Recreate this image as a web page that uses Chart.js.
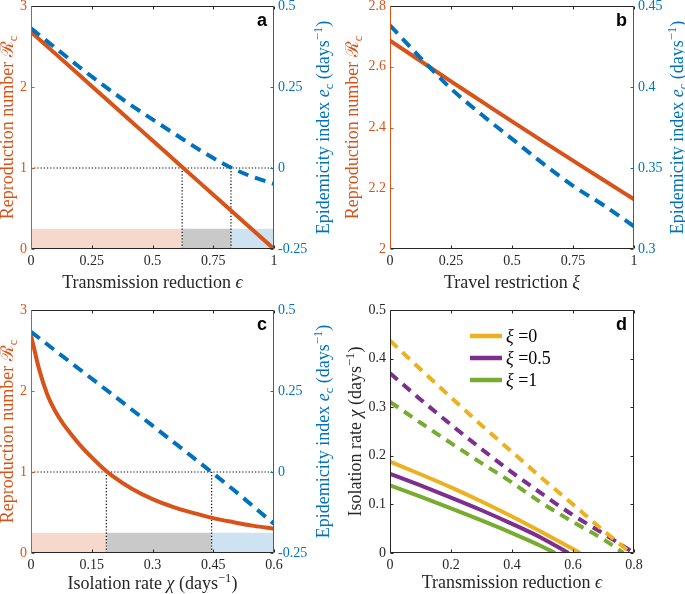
<!DOCTYPE html>
<html>
<head>
<meta charset="utf-8">
<script src="https://cdn.jsdelivr.net/npm/chart.js@4.4.0/dist/chart.umd.min.js"></script>
<style>
html, body { margin: 0; padding: 0; background: #fff; }
#wrap { position: relative; width: 685px; height: 594px; }
#wrap canvas { position: absolute; }
</style>
</head>
<body>
<div id="wrap">
  <canvas id="chartA" width="342" height="290" style="left:0;top:0"></canvas>
  <canvas id="chartB" width="343" height="290" style="left:342px;top:0"></canvas>
  <canvas id="chartC" width="342" height="304" style="left:0;top:290px"></canvas>
  <canvas id="chartD" width="343" height="304" style="left:342px;top:290px"></canvas>
</div>
<script>
// ---- data ----

// a: transmission reduction
const epsA = [0, 0.1, 0.2, 0.3, 0.4, 0.5, 0.6, 0.7, 0.8, 0.9, 1];
const rcA = [2.68, 2.412, 2.144, 1.876, 1.608, 1.34, 1.072, 0.804, 0.536, 0.268, 0];
const ecA = [0.431, 0.371, 0.311, 0.254, 0.200, 0.150, 0.101, 0.053, 0.010, -0.024, -0.049];
const cutsA = [0.622, 0.823];

// b: travel restriction
const xiB = [0, 0.125, 0.25, 0.375, 0.5, 0.625, 0.75, 0.875, 1];
const rcB = [2.686, 2.619, 2.552, 2.486, 2.420, 2.355, 2.291, 2.227, 2.164];
const ecB = [0.438, 0.418, 0.399, 0.383, 0.368, 0.353, 0.339, 0.327, 0.314];

// c: isolation rate
const chiC = [0, 0.02, 0.04, 0.06, 0.08, 0.1, 0.125, 0.15, 0.175, 0.2, 0.25, 0.3, 0.35, 0.4, 0.45, 0.5, 0.55, 0.6];
const rcC = [2.69, 2.27, 1.96, 1.75, 1.59, 1.46, 1.31, 1.18, 1.06, 0.955, 0.79, 0.665, 0.57, 0.495, 0.43, 0.38, 0.335, 0.30];
const chiC2 = [0, 0.1, 0.2, 0.3, 0.4, 0.5, 0.6];
const ecC = [0.433, 0.336, 0.240, 0.143, 0.045, -0.055, -0.16];
const cutsC = [0.186, 0.446];

// d: isolation threshold vs transmission reduction (solid R=1, dashed e=0)
const xiLabels = ['0', '0.5', '1'];
const epsSolid = [
  [0, 0.1, 0.2, 0.3, 0.4, 0.5, 0.6, 0.623],
  [0, 0.1, 0.2, 0.3, 0.4, 0.5, 0.585],
  [0, 0.1, 0.2, 0.3, 0.4, 0.5, 0.541]
];
const chiSolid = [
  [0.188, 0.162, 0.135, 0.106, 0.075, 0.042, 0.008, 0],
  [0.163, 0.139, 0.114, 0.088, 0.060, 0.030, 0],
  [0.139, 0.116, 0.092, 0.067, 0.041, 0.013, 0]
];
const epsDashed = [
  [0, 0.1, 0.2, 0.3, 0.4, 0.5, 0.6, 0.7, 0.79],
  [0, 0.1, 0.2, 0.3, 0.4, 0.5, 0.6, 0.7, 0.8],
  [0, 0.1, 0.2, 0.3, 0.4, 0.5, 0.6, 0.7, 0.765]
];
const chiDashed = [
  [0.437, 0.378, 0.320, 0.263, 0.208, 0.153, 0.100, 0.046, 0],
  [0.370, 0.316, 0.264, 0.214, 0.166, 0.121, 0.078, 0.040, 0],
  [0.311, 0.268, 0.226, 0.185, 0.145, 0.102, 0.064, 0.028, 0]
];

// tick labels
const ticksEps = [0, 0.25, 0.5, 0.75, 1];
const ticksChi = [0, 0.15, 0.3, 0.45, 0.6];
const ticksEpsD = [0, 0.2, 0.4, 0.6, 0.8];
const ticksRcA = [0, 1, 2, 3];
const ticksEcA = [-0.25, 0, 0.25, 0.5];
const ticksRcB = [2, 2.2, 2.4, 2.6, 2.8];
const ticksEcB = [0.3, 0.35, 0.4, 0.45];
const ticksChiD = [0, 0.1, 0.2, 0.3, 0.4, 0.5];
const bandTop = 0.25;
const threshold = 1;

// ---- styling ----
const RED = '#D95319', BLUE = '#0072BD', AXIS = '#262626';
const LINE_D = ['#EDB120', '#7E2F8E', '#77AC30'];
const BAND = ['#F6D9CC', '#C9C9C9', '#CDE3F1'];
const FONT = "'Liberation Serif', 'DejaVu Serif', serif";
const TITLE = 18;

const pts = (xs, ys) => xs.map((x, i) => ({ x, y: ys[i] }));

function curve(xs, ys, color, dashed, axis) {
    return {
        data: pts(xs, ys), yAxisID: axis || 'y',
        borderColor: color, borderWidth: 4, borderDash: dashed ? [11, 7] : [],
        pointRadius: 0, fill: false, cubicInterpolationMode: 'monotone', order: dashed ? 0 : 1
    };
}

function bands(cuts, xMax) {
    const edges = [0, cuts[0], cuts[1], xMax];
    return BAND.map((c, i) => ({
        data: [{ x: edges[i], y: bandTop }, { x: edges[i + 1], y: bandTop }], yAxisID: 'y',
        fill: 'origin', backgroundColor: c, borderColor: c, borderWidth: 0, pointRadius: 0, order: 5
    }));
}

function guides(cuts, xMax) {
    const dot = d => ({
        data: d, yAxisID: 'y', borderColor: '#000', borderWidth: 1.2, borderDash: [1.2, 2],
        pointRadius: 0, fill: false, order: 3
    });
    return [dot([{ x: 0, y: threshold }, { x: xMax, y: threshold }])]
        .concat(cuts.map(c => dot([{ x: c, y: 0 }, { x: c, y: threshold }])));
}

function axis(min, max, ticks, color, pos, size) {
    const isX = pos === 'bottom';
    return {
        type: 'linear', position: pos, min, max,
        grid: { display: false, drawTicks: false }, border: { display: false },
        afterBuildTicks: s => { s.ticks = ticks.map(v => ({ value: v })); },
        afterFit: s => {
            if (isX) { s.height = size; s.paddingLeft = 0; s.paddingRight = 0; }
            else { s.width = size; s.paddingTop = 0; s.paddingBottom = 0; }
        },
        ticks: {
            color, padding: isX ? 4 : 4, autoSkip: false, maxRotation: 0,
            font: { family: FONT, size: 14 }, callback: v => String(v)
        }
    };
}

// rich text: parts are [text, flags] with i = italic, b = subscript, p = superscript
function drawRich(ctx, parts, x, y, size, color, rot, align) {
    ctx.save();
    ctx.translate(x, y);
    ctx.rotate(rot || 0);
    ctx.fillStyle = color;
    ctx.textAlign = 'left';
    ctx.textBaseline = 'alphabetic';
    const fontFor = f => (f.includes('i') ? 'italic ' : '') +
        ((f.includes('b') || f.includes('p')) ? size * 0.7 : size) + 'px ' + FONT;
    let total = 0;
    parts.forEach(([t, f = '']) => { ctx.font = fontFor(f); total += ctx.measureText(t).width; });
    let cx = align === 'left' ? 0 : -total / 2;
    parts.forEach(([t, f = '']) => {
        ctx.font = fontFor(f);
        let dy = size * 0.33;
        if (f.includes('b')) dy += size * 0.22;
        if (f.includes('p')) dy -= size * 0.38;
        ctx.fillText(t, cx, dy);
        cx += ctx.measureText(t).width;
    });
    ctx.restore();
}

const T_RC = [['Reproduction number '], ['ℛ'], ['c', 'b']];
const T_EC = [['Epidemicity index '], ['e', 'i'], ['c', 'b'], [' (days'], ['−1', 'p'], [')']];
const T_EPS = [['Transmission reduction '], ['ϵ', 'i']];
const T_XI = [['Travel restriction '], ['ξ', 'i']];
const T_CHI = [['Isolation rate '], ['χ', 'i'], [' (days'], ['−1', 'p'], [')']];

function deco(cfg) {
    return {
        id: 'deco',
        afterDraw(chart) {
            const { ctx, chartArea: a, scales } = chart;
            const line = (x1, y1, x2, y2, c, w) => {
                ctx.strokeStyle = c; ctx.lineWidth = w || 1;
                ctx.beginPath(); ctx.moveTo(x1, y1); ctx.lineTo(x2, y2); ctx.stroke();
            };
            const L = Math.round(a.left) + 0.5, R = Math.round(a.right) - 0.5;
            const Tp = Math.round(a.top) + 0.5, B = Math.round(a.bottom) - 0.5;
            ctx.save();
            scales.x.ticks.forEach(t => {
                const px = Math.round(scales.x.getPixelForValue(t.value)) + 0.5;
                line(px, B, px, B - 3, AXIS);
                line(px, Tp, px, Tp + 3, AXIS);
            });
            scales.y.ticks.forEach(t => {
                const py = Math.round(scales.y.getPixelForValue(t.value)) + 0.5;
                line(L, py, L + 3, py, cfg.leftColor);
                if (!scales.y2) line(R, py, R - 3, py, AXIS);
            });
            if (scales.y2) scales.y2.ticks.forEach(t => {
                const py = Math.round(scales.y2.getPixelForValue(t.value)) + 0.5;
                line(R, py, R - 3, py, cfg.rightColor);
            });
            line(L, Tp, R, Tp, AXIS);
            line(L, B, R, B, AXIS);
            line(L, Tp, L, B, cfg.leftColor);
            line(R, Tp, R, B, cfg.rightColor);

            const midY = (a.top + a.bottom) / 2, midX = (a.left + a.right) / 2;
            drawRich(ctx, cfg.left, a.left - cfg.leftOff, midY, TITLE, cfg.leftColor, -Math.PI / 2);
            if (cfg.right) drawRich(ctx, cfg.right, a.right + cfg.rightOff, midY, TITLE, cfg.rightColor, -Math.PI / 2);
            drawRich(ctx, cfg.bottom, midX, a.bottom + cfg.bottomOff, TITLE, AXIS, 0);

            ctx.font = 'bold 18px "Liberation Sans", Arial, sans-serif';
            ctx.fillStyle = '#000';
            ctx.textAlign = 'right';
            ctx.textBaseline = 'alphabetic';
            ctx.fillText(cfg.letter, a.right - 7, a.top + 20);

            if (cfg.legend) {
                cfg.legend.forEach((lab, i) => {
                    const y = a.top + 26 + i * 22;
                    line(a.left + 80, y, a.left + 112, y, LINE_D[i], 4.5);
                    drawRich(ctx, [['ξ', 'i'], [' =' + lab]], a.left + 116, y, 18, '#000', 0, 'left');
                });
            }
            ctx.restore();
        }
    };
}

function baseOptions(scales, padding) {
    return {
        responsive: false, animation: false, events: [],
        layout: { padding },
        plugins: { legend: { display: false }, tooltip: { enabled: false } },
        scales
    };
}

// a
new Chart(document.getElementById('chartA'), {
    type: 'line',
    data: {
        datasets: bands(cutsA, 1).concat(guides(cutsA, 1), [
            curve(epsA, rcA, RED, false, 'y'),
            curve(epsA, ecA, BLUE, true, 'y2')
        ])
    },
    options: baseOptions({
        x: axis(0, 1, ticksEps, AXIS, 'bottom', 41),
        y: axis(0, 3, ticksRcA, RED, 'left', 31),
        y2: axis(-0.25, 0.5, ticksEcA, BLUE, 'right', 68)
    }, { top: 6 }),
    plugins: [deco({ letter: 'a', left: T_RC, right: T_EC, bottom: T_EPS, leftColor: RED, rightColor: BLUE, leftOff: 24, rightOff: 49, bottomOff: 33 })]
});

// b
new Chart(document.getElementById('chartB'), {
    type: 'line',
    data: {
        datasets: [
            curve(xiB, rcB, RED, false, 'y'),
            curve(xiB, ecB, BLUE, true, 'y2')
        ]
    },
    options: baseOptions({
        x: axis(0, 1, ticksEps, AXIS, 'bottom', 41),
        y: axis(2, 2.8, ticksRcB, RED, 'left', 48),
        y2: axis(0.3, 0.45, ticksEcB, BLUE, 'right', 51)
    }, { top: 6 }),
    plugins: [deco({ letter: 'b', left: T_RC, right: T_EC, bottom: T_XI, leftColor: RED, rightColor: BLUE, leftOff: 38, rightOff: 43, bottomOff: 33 })]
});

// c
new Chart(document.getElementById('chartC'), {
    type: 'line',
    data: {
        datasets: bands(cutsC, 0.6).concat(guides(cutsC, 0.6), [
            curve(chiC, rcC, RED, false, 'y'),
            curve(chiC2, ecC, BLUE, true, 'y2')
        ])
    },
    options: baseOptions({
        x: axis(0, 0.6, ticksChi, AXIS, 'bottom', 41),
        y: axis(0, 3, ticksRcA, RED, 'left', 31),
        y2: axis(-0.25, 0.5, ticksEcA, BLUE, 'right', 68)
    }, { top: 20 }),
    plugins: [deco({ letter: 'c', left: T_RC, right: T_EC, bottom: T_CHI, leftColor: RED, rightColor: BLUE, leftOff: 24, rightOff: 49, bottomOff: 30 })]
});

// d
const dSets = [];
LINE_D.forEach((c, i) => {
    dSets.push(curve(epsDashed[i], chiDashed[i], c, true, 'y'));
    dSets.push(curve(epsSolid[i], chiSolid[i], c, false, 'y'));
});
dSets.forEach(d => { if (d.borderDash.length) d.borderDash = [10, 7]; });
new Chart(document.getElementById('chartD'), {
    type: 'line',
    data: { datasets: dSets },
    options: baseOptions({
        x: axis(0, 0.8, ticksEpsD, AXIS, 'bottom', 41),
        y: axis(0, 0.5, ticksChiD, AXIS, 'left', 48)
    }, { top: 20, right: 51 }),
    plugins: [deco({ letter: 'd', left: T_CHI, bottom: T_EPS, leftColor: AXIS, rightColor: AXIS, leftOff: 35, bottomOff: 29, legend: xiLabels })]
});
</script>
</body>
</html>
